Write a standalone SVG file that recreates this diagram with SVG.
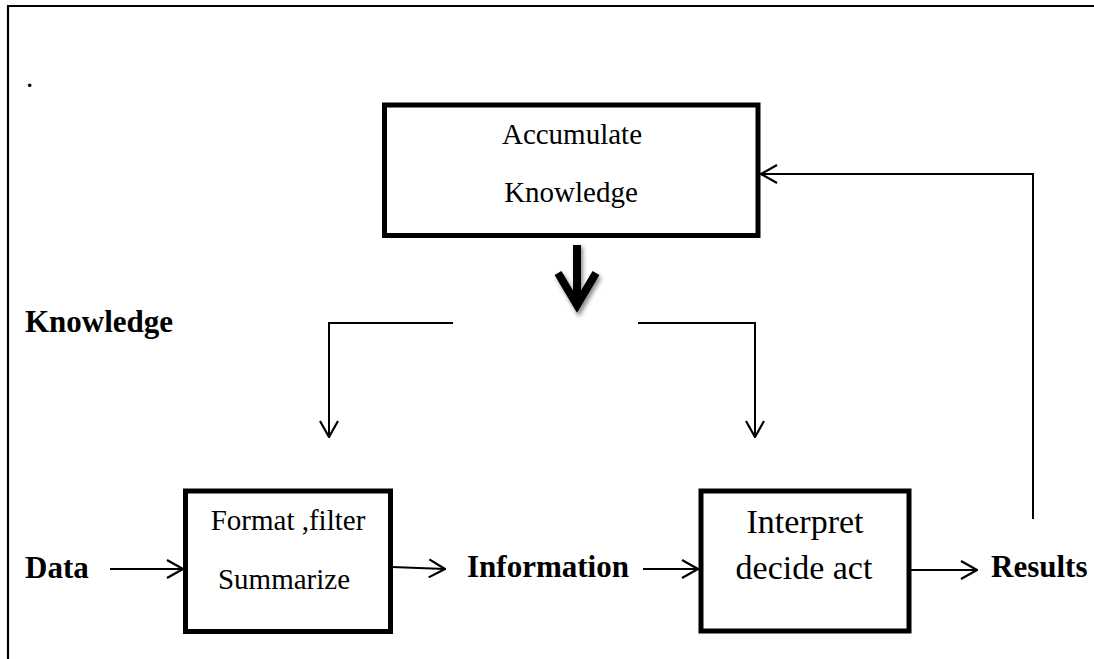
<svg xmlns="http://www.w3.org/2000/svg" width="1094" height="659" viewBox="0 0 1094 659">
  <defs>
    <marker id="open" viewBox="0 0 18 20" refX="17" refY="10" markerWidth="18" markerHeight="20" markerUnits="userSpaceOnUse" orient="auto">
      <path d="M1,1 L17,10 L1,19" fill="none" stroke="#000" stroke-width="2.2"/>
    </marker>
    <filter id="shadow" x="-50%" y="-50%" width="200%" height="200%">
      <feGaussianBlur stdDeviation="2"/>
    </filter>
  </defs>
  <style>
    .box { fill: #fff; stroke: #000; stroke-width: 5; }
    .line { fill: none; stroke: #000; stroke-width: 2; }
    .lbl { font-family: "Liberation Serif", "Times New Roman", serif; font-weight: bold; font-size: 31px; fill: #000; }
    .txt { font-family: "Liberation Serif", "Times New Roman", serif; font-size: 29px; fill: #000; text-anchor: middle; }
    .big { font-family: "Liberation Serif", "Times New Roman", serif; font-size: 34px; fill: #000; text-anchor: middle; }
  </style>
  <rect x="0" y="0" width="1094" height="659" fill="#fff"/>

  <!-- frame -->
  <g id="frame">
    <path d="M8,659 L8,6 L1094,6" fill="none" stroke="#000" stroke-width="2.2"/>
    <text x="26" y="87" class="txt" style="text-anchor:start">.</text>
  </g>

  <!-- labels -->
  <g id="label-knowledge"><text x="25" y="332" class="lbl">Knowledge</text></g>
  <g id="label-data"><text x="25" y="578" class="lbl">Data</text></g>
  <g id="label-information"><text x="467" y="577" class="lbl">Information</text></g>
  <g id="label-results"><text x="991" y="577" class="lbl">Results</text></g>

  <!-- nodes -->
  <g id="node-accumulate">
    <rect x="384.5" y="105" width="373.5" height="130.5" class="box"/>
    <text x="572" y="144" class="txt">Accumulate</text>
    <text x="571" y="202" class="txt">Knowledge</text>
  </g>
  <g id="node-format">
    <rect x="185.5" y="491" width="205" height="140.5" class="box"/>
    <text x="288" y="530" class="txt">Format ,filter</text>
    <text x="284" y="589" class="txt">Summarize</text>
  </g>
  <g id="node-interpret">
    <rect x="701" y="491" width="208" height="140" class="box"/>
    <text x="805" y="533" class="big">Interpret</text>
    <text x="804" y="579" class="big">decide act</text>
  </g>

  <!-- connectors -->
  <g id="connectors">
    <!-- thick down arrow with shadow -->
    <g filter="url(#shadow)" opacity="0.45">
      <path d="M579,247 L579,302 M560,276 L579,309 L598,276" fill="none" stroke="#000" stroke-width="8"/>
    </g>
    <path d="M577,245 L577,300 M558,273 L577,305 L596,273" fill="none" stroke="#000" stroke-width="8" stroke-linejoin="miter"/>

    <path d="M453,323 L329,323 L329,437" class="line" marker-end="url(#open)"/>
    <path d="M638,323 L755,323 L755,437" class="line" marker-end="url(#open)"/>

    <path d="M110,569 L183,569" class="line" marker-end="url(#open)"/>
    <path d="M392,567 L445,569" class="line" marker-end="url(#open)"/>
    <path d="M643,569 L698,569" class="line" marker-end="url(#open)"/>
    <path d="M911,570 L977,570" class="line" marker-end="url(#open)"/>

    <path d="M1033,519 L1033,174 L761,174" class="line" marker-end="url(#open)"/>
  </g>
</svg>
